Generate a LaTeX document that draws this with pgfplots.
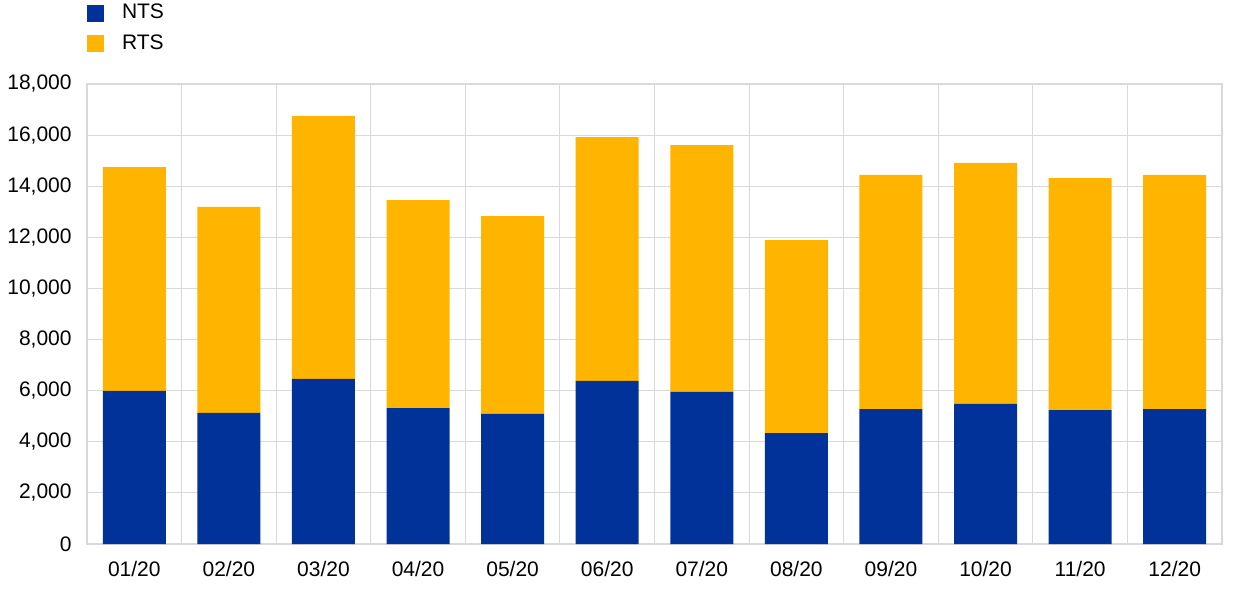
\documentclass[border=0pt]{standalone}
\usepackage{pgfplots}
\pgfplotsset{compat=1.18}
\usepackage{fontspec}
\setmainfont{Liberation Sans}
\definecolor{ecbblue}{HTML}{003299}
\definecolor{ecbyellow}{HTML}{FFB400}
\definecolor{gridgrey}{HTML}{D9D9D9}
\begin{document}
\fontsize{10.5}{12}\selectfont
\begin{tikzpicture}[x=1pt,y=1pt]
\useasboundingbox (-43.5,-23) rectangle (576.5,272);
\begin{axis}[
  at={(0,0)}, anchor=south west,
  scale only axis, width=567.5pt, height=230pt,
  ybar stacked, bar width=0.666,
  xmin=-0.5, xmax=11.5, ymin=0, ymax=18000,
  xtick={0,...,11},
  xticklabels={01/20,02/20,03/20,04/20,05/20,06/20,07/20,08/20,09/20,10/20,11/20,12/20},
  minor xtick={-0.5,0.5,...,11.5},
  ytick={0,2000,...,18000},
  xminorgrids=true, ymajorgrids=true, xmajorgrids=false,
  grid style={gridgrey, line width=0.5pt},
  minor grid style={gridgrey, line width=0.5pt},
  axis line style={gridgrey, line width=0.8pt},
  major tick length=0pt, minor tick length=0pt,
  tick style={draw=none},
  /pgf/number format/.cd, fixed, 1000 sep={,}, assume math mode=true, /pgfplots/.cd,
  scaled y ticks=false,
  ticklabel style={font=\fontsize{10.5}{12}\selectfont},
  xticklabel style={yshift=-5pt},
  yticklabel style={xshift=-4pt},
  legend style={at={(0,1.182)}, anchor=north west, draw=none, fill=none,
    inner sep=0pt, outer sep=0pt, row sep=2.3pt,
    font=\fontsize{10.5}{12}\selectfont, cells={anchor=west}},
  legend image code/.code={\fill[#1] (0pt,-4.25pt) rectangle (8.5pt,4.25pt);},
  legend cell align=left,
]
\addplot[fill=ecbblue, draw=none] coordinates {
(0,5990) (1,5130) (2,6460) (3,5320) (4,5090) (5,6380) (6,5950) (7,4340) (8,5280) (9,5480) (10,5240) (11,5280)};
\addlegendentry{\hspace{7pt}NTS}
\addplot[fill=ecbyellow, draw=none] coordinates {
(0,8760) (1,8060) (2,10290) (3,8140) (4,7740) (5,9540) (6,9660) (7,7550) (8,9160) (9,9430) (10,9080) (11,9160)};
\addlegendentry{\hspace{7pt}RTS}
\end{axis}
\end{tikzpicture}
\end{document}
